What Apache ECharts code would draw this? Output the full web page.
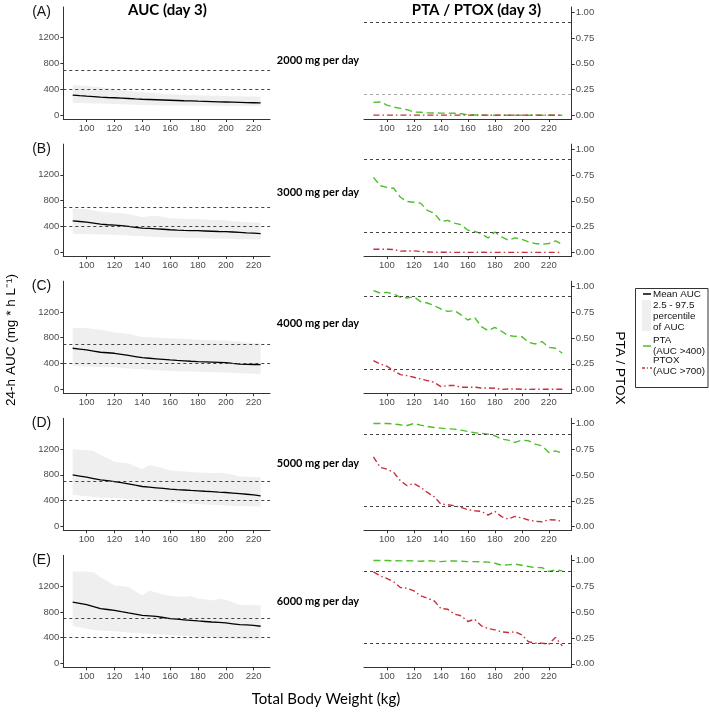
<!DOCTYPE html>
<html>
<head>
<meta charset="utf-8">
<script src="https://cdn.jsdelivr.net/npm/echarts@6/dist/echarts.min.js"></script>
<style>html,body{margin:0;padding:0;background:#fff}#c{width:709px;height:712px}</style>
</head>
<body>
<div id="c"></div>
<script>
// ---------------- DATA ----------------
const weightsAUC = [90,95,100,105,110,115,120,125,130,135,140,145,150,155,160,165,170,175,180,185,190,195,200,205,210,215,220,225];
const weightsPT  = [90,95,100,105,110,115,120,125,130,135,140,145,150,155,160,165,170,175,180,185,190,195,200,205,210,215,220,225,230];
const xTicks = [100,120,140,160,180,200,220];
const aucTicks = [0,400,800,1200];
const ptTicks = [0,0.25,0.5,0.75,1];
const panelLetters = ['(A)','(B)','(C)','(D)','(E)'];
const doseLabels = ['2000 mg per day','3000 mg per day','4000 mg per day','5000 mg per day','6000 mg per day'];
const aucRefLines = [400,700];
const ptRefLines = [0.9,0.2];

const meanA  = [310,300,292,285,278,272,268,262,256,250,245,241,237,233,229,225,221,218,214,211,208,205,202,199,196,193,190,187];
const upperA = [466,460,452,440,430,418,400,388,375,362,352,345,338,330,325,318,312,308,305,302,300,298,296,293,290,288,286,284];
const lowerA = [190,186,183,180,177,174,170,166,162,158,155,153,151,149,148,147,146,145,144,143,142,142,141,141,140,140,140,139];

const meanB  = [485,475,465,450,434,425,419,410,398,385,373,368,362,355,347,342,338,335,332,328,324,320,317,312,306,300,296,288];
const upperB = [679,672,664,645,628,620,613,603,592,570,541,555,562,545,526,520,515,513,511,505,500,498,495,480,470,465,460,460];
const lowerB = [286,283,280,277,275,273,271,265,258,252,245,240,236,232,228,225,222,220,218,215,212,210,207,204,201,199,197,194];

const meanC  = [636,623,610,592,574,566,558,541,524,507,490,481,472,463,454,447,441,434,428,424,420,416,412,401,391,386,384,381];
const upperC = [949,949,949,936,923,902,882,871,861,835,809,805,801,797,793,789,785,775,767,763,760,758,756,745,735,725,715,715];
const lowerC = [360,356,352,347,343,341,339,330,320,314,308,301,295,288,282,279,276,274,271,268,265,262,258,254,250,245,240,235];

const meanD  = [798,780,762,742,721,708,695,677,659,638,618,608,598,588,577,570,564,557,551,544,538,531,525,516,507,498,489,474];
const upperD = [1195,1190,1184,1169,1107,1060,1004,990,978,930,886,953,930,900,865,858,850,842,834,830,826,832,824,800,772,768,765,762];
const lowerD = [489,478,467,455,445,440,438,430,420,415,412,400,390,380,371,365,358,352,345,340,335,330,325,320,316,312,310,309];

const meanE  = [953,932,911,880,850,837,824,803,783,765,747,739,731,713,695,686,677,668,659,651,643,636,628,615,602,597,592,577];
const upperE = [1426,1426,1426,1416,1339,1280,1210,1200,1185,1120,1056,1133,1100,1070,1045,1040,1035,1045,1004,995,978,1004,990,950,911,906,903,901];
const lowerE = [582,560,540,520,510,505,500,490,480,472,463,457,450,444,438,432,425,420,412,405,400,395,390,383,378,375,372,371];

const ptaA  = [0.126,0.13,0.10,0.08,0.068,0.055,0.032,0.03,0.025,0.023,0.022,0.022,0.02,0.016,0.006,0.004,0.003,0.003,0.002,0.002,0.002,0.001,0.001,0.001,0.001,0.001,0.001,0.001,0.001];
const ptoxA = [0.003,0.003,0.003,0.003,0.003,0.003,0.003,0.003,0.003,0.003,0.003,0.003,0.003,0.003,0.003,0.003,0.003,0.003,0.003,0.003,0.003,0.003,0.003,0.003,0.003,0.003,0.003,0.003,0.003];
const ptaB  = [0.728,0.647,0.631,0.622,0.535,0.494,0.487,0.478,0.407,0.381,0.301,0.311,0.285,0.269,0.215,0.205,0.183,0.141,0.199,0.151,0.119,0.141,0.128,0.103,0.087,0.08,0.087,0.112,0.077];
const ptoxB = [0.032,0.032,0.032,0.029,0.013,0.014,0.016,0.01,0.004,0.003,0.002,0.002,0.001,0.001,0.001,0.001,0.003,0.001,0.001,0.001,0.001,0.001,0.001,0.001,0.001,0.001,0.001,0.001,0.001];
const ptaC  = [0.958,0.935,0.942,0.926,0.894,0.887,0.9,0.852,0.839,0.813,0.781,0.758,0.765,0.723,0.674,0.7,0.61,0.571,0.603,0.565,0.523,0.516,0.513,0.458,0.442,0.465,0.41,0.4,0.352];
const ptoxC = [0.281,0.248,0.226,0.184,0.145,0.135,0.119,0.103,0.087,0.071,0.029,0.039,0.039,0.023,0.023,0.023,0.016,0.016,0.013,0.002,0.006,0.006,0.003,0.002,0.003,0.003,0.003,0.003,0.003];
const ptaD  = [1.0,1.0,1.0,0.995,0.987,0.98,1.0,0.984,0.971,0.961,0.955,0.948,0.945,0.935,0.923,0.91,0.903,0.897,0.881,0.848,0.839,0.816,0.839,0.832,0.8,0.784,0.719,0.735,0.713];
const ptoxD = [0.677,0.574,0.558,0.526,0.445,0.397,0.419,0.381,0.332,0.29,0.219,0.213,0.203,0.187,0.165,0.155,0.148,0.113,0.148,0.097,0.074,0.1,0.084,0.065,0.052,0.048,0.068,0.065,0.052];
const ptaE  = [1.0,1.0,1.0,0.998,0.997,0.998,0.997,0.993,0.998,0.995,0.99,0.996,0.996,0.993,0.99,0.99,0.987,0.985,0.974,0.955,0.958,0.965,0.955,0.942,0.932,0.932,0.894,0.91,0.9];
const ptoxE = [0.89,0.852,0.826,0.794,0.739,0.732,0.706,0.658,0.635,0.61,0.535,0.529,0.481,0.465,0.41,0.432,0.368,0.342,0.329,0.31,0.303,0.31,0.281,0.213,0.2,0.2,0.19,0.255,0.174];

// --------------- BUILD -----------------
const panels = [
  {mean:meanA,upper:upperA,lower:lowerA,pta:ptaA,ptox:ptoxA},
  {mean:meanB,upper:upperB,lower:lowerB,pta:ptaB,ptox:ptoxB},
  {mean:meanC,upper:upperC,lower:lowerC,pta:ptaC,ptox:ptoxC},
  {mean:meanD,upper:upperD,lower:lowerD,pta:ptaD,ptox:ptoxD},
  {mean:meanE,upper:upperE,lower:lowerE,pta:ptaE,ptox:ptoxE}
];

const AX = '#333333';
const TICKC = '#4d4d4d';
const GREEN = '#4cbf2a';
const RED = '#c7303c';
const BAND = '#efefef';
const tickFont = 'Liberation Sans';
const ROWSTEP = 137.1, TOP0 = 7, H = 112;
const doseY = [60,192,323,463,601];

const grids = [], xAxes = [], yAxes = [], series = [];
const pairs = (xs, ys) => ys.map((v,i)=>[xs[i], v]);

panels.forEach((p, i) => {
  const top = TOP0 + ROWSTEP*i;
  grids.push({left:63.3, top:top, width:206.7, height:H});
  grids.push({left:364, top:top, width:207.7, height:H});
  const gl = 2*i, gr = 2*i+1;
  const xCommon = (g, min, max) => ({
    gridIndex:g, type:'value', min:min, max:max,
    axisLine:{show:true, onZero:false, lineStyle:{color:AX, width:1}},
    axisTick:{show:true, length:3, customValues:xTicks, lineStyle:{color:AX}},
    axisLabel:{customValues:xTicks, fontSize:9.5, fontFamily:tickFont, color:TICKC, margin:4,
               formatter:(v)=>String(v)},
    splitLine:{show:false}
  });
  xAxes.push(xCommon(gl, 83.25, 231.75));
  xAxes.push(xCommon(gr, 83, 237));
  yAxes.push({
    gridIndex:gl, type:'value', min:-62, max:1677, position:'left',
    axisLine:{show:true, onZero:false, lineStyle:{color:AX, width:1}},
    axisTick:{show:true, length:3, customValues:aucTicks, lineStyle:{color:AX}},
    axisLabel:{customValues:aucTicks, fontSize:9.5, fontFamily:tickFont, color:TICKC, margin:4,
               formatter:(v)=>String(v)},
    splitLine:{show:false}
  });
  yAxes.push({
    gridIndex:gr, type:'value', min:-0.035, max:1.05, position:'right',
    axisLine:{show:true, onZero:false, lineStyle:{color:AX, width:1}},
    axisTick:{show:true, length:3, customValues:ptTicks, lineStyle:{color:AX}},
    axisLabel:{customValues:ptTicks, fontSize:9.5, fontFamily:tickFont, color:TICKC, margin:4,
               formatter:(v)=>Number(v).toFixed(2)},
    splitLine:{show:false}
  });
  // percentile band as polygon through the axis scales
  const bandData = weightsAUC.map((w,k)=>[w, p.lower[k], p.upper[k]]);
  series.push({
    type:'custom', xAxisIndex:gl, yAxisIndex:gl, data:bandData, silent:true, z:1,
    encode:{x:0, y:[1,2]},
    renderItem:(params, api) => {
      if (params.dataIndex !== 0) return null;
      const pts = [];
      for (let k = 0; k < bandData.length; k++) pts.push(api.coord([bandData[k][0], bandData[k][2]]));
      for (let k = bandData.length-1; k >= 0; k--) pts.push(api.coord([bandData[k][0], bandData[k][1]]));
      return {type:'polygon', shape:{points:pts}, style:{fill:BAND, stroke:null}};
    }
  });
  series.push({
    type:'line', xAxisIndex:gl, yAxisIndex:gl, data:pairs(weightsAUC, p.mean),
    showSymbol:false, symbol:'none', lineStyle:{color:'#000', width:1.3}, z:3,
    markLine:{silent:true, symbol:'none', label:{show:false},
      lineStyle:{color:'#444', type:[3,3], width:1},
      data:aucRefLines.map(v=>({yAxis:v}))}
  });
  series.push({
    type:'line', xAxisIndex:gr, yAxisIndex:gr, data:pairs(weightsPT, p.pta),
    showSymbol:false, symbol:'none', lineStyle:{color:GREEN, width:1.4, type:[7,4]}, z:3,
    markLine:{silent:true, symbol:'none', label:{show:false},
      lineStyle:{color:'#444', type:[3,3], width:1},
      data:[{yAxis:ptRefLines[0]}, {yAxis:ptRefLines[1], lineStyle:{color: i===0 ? '#aaaaaa' : '#444'}}]}
  });
  series.push({
    type:'line', xAxisIndex:gr, yAxisIndex:gr, data:pairs(weightsPT, p.ptox),
    showSymbol:false, symbol:'none', lineStyle:{color:RED, width:1.4, type:[6,3,1.5,3]}, z:3
  });
});

const graphics = [];
const txt = (x, y, text, font, opts={}) => ({
  type:'text', x:x, y:y, rotation:opts.rotation||0, silent:true,
  style:{text:text, font:font, fill:opts.fill||'#000',
    textAlign:opts.align||'center', textVerticalAlign:'middle'}
});
graphics.push(txt(167.5, 10, 'AUC (day 3)', 'bold 15px Lato'));
graphics.push(txt(476.5, 10, 'PTA / PTOX (day 3)', 'bold 15px Lato'));
panelLetters.forEach((l,i)=>graphics.push(txt(41.5, 12 + ROWSTEP*i, l, '14px "Liberation Sans"', {fill:'#111'})));
doseLabels.forEach((l,i)=>graphics.push(txt(318, doseY[i], l, 'bold 11px Lato')));
graphics.push(txt(11, 340, '24-h AUC (mg * h L\u207B\u00B9)', '13.5px "Liberation Sans"', {rotation:Math.PI/2}));
graphics.push(txt(620, 368, 'PTA / PTOX', '13.5px "Liberation Sans"', {rotation:-Math.PI/2}));
graphics.push(txt(326, 699, 'Total Body Weight (kg)', '15px Lato'));

// legend
graphics.push({type:'rect', silent:true, shape:{x:635.5, y:288.5, width:72.5, height:99},
  style:{fill:'#fff', stroke:'#333', lineWidth:1}});
graphics.push({type:'line', silent:true, shape:{x1:643, y1:294, x2:651, y2:294}, style:{stroke:'#000', lineWidth:1.5}});
graphics.push({type:'rect', silent:true, shape:{x:642, y:300, width:9, height:31}, style:{fill:BAND}});
graphics.push({type:'line', silent:true, shape:{x1:643, y1:346, x2:651, y2:346}, style:{stroke:GREEN, lineWidth:1.5}});
graphics.push({type:'line', silent:true, shape:{x1:642, y1:368, x2:652, y2:368}, style:{stroke:RED, lineWidth:1.5, lineDash:[3,2,1,2]}});
const lf = '9.8px "Liberation Sans"';
[['Mean AUC',294],['2.5 - 97.5',305],['percentile',316],['of AUC',327],
 ['PTA',340],['(AUC >400)',351],['PTOX',360],['(AUC >700)',371]].forEach(([t,y])=>{
  graphics.push(txt(653, y, t, lf, {align:'left', fill:'#111'}));
});

const chart = echarts.init(document.getElementById('c'), null, {renderer:'canvas'});
chart.setOption({
  animation:false,
  backgroundColor:'#fff',
  grid:grids, xAxis:xAxes, yAxis:yAxes, series:series,
  graphic:graphics
});
</script>
</body>
</html>
